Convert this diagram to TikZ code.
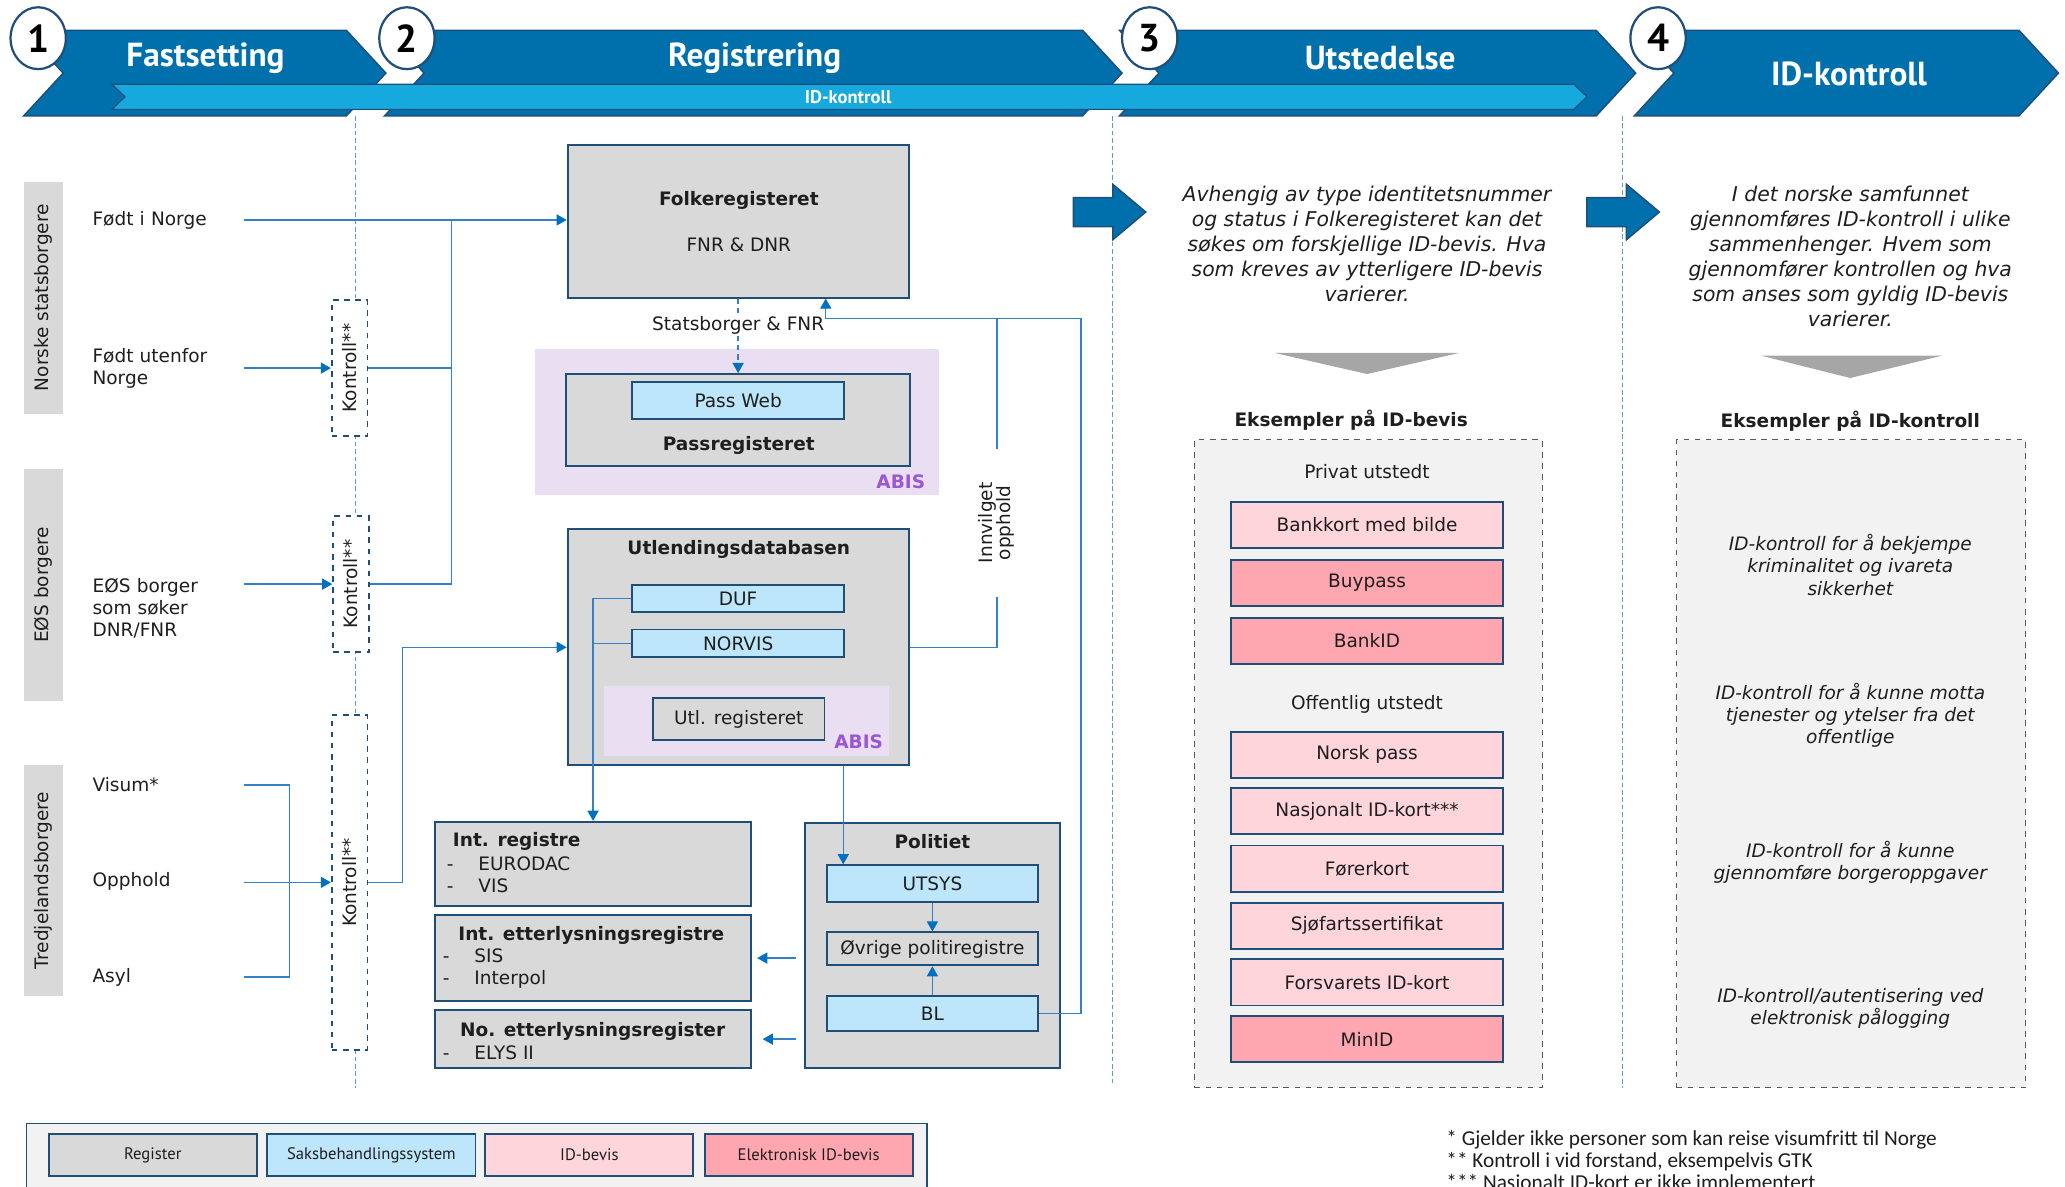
\documentclass[tikz,border=0pt]{standalone}
\usepackage{fontspec}
\setmainfont{DejaVu Sans}
\newfontfamily\hdrfont{PT Sans}
\newfontfamily\notefont{Carlito}
\usepackage{graphicx}
\usetikzlibrary{arrows.meta,calc,shapes.geometric}

\definecolor{hdrblue}{RGB}{0,112,173}
\definecolor{hdrdark}{RGB}{31,78,121}
\definecolor{barblue}{RGB}{21,169,221}
\definecolor{lnblue}{RGB}{52,130,195}
\definecolor{tipblue}{RGB}{0,112,192}
\definecolor{regfill}{RGB}{217,217,217}
\definecolor{sysfill}{RGB}{189,230,251}
\definecolor{idfill}{RGB}{255,213,220}
\definecolor{eidfill}{RGB}{255,167,177}
\definecolor{abisfill}{RGB}{234,223,242}
\definecolor{abistxt}{RGB}{155,87,211}
\definecolor{guideblue}{RGB}{91,155,213}
\definecolor{txt}{RGB}{30,30,30}

\newcommand\pu{0.025cm}
\newcommand\dashitem[1]{\makebox[0.6cm][l]{-}#1}

\tikzset{
  sz/.style 2 args={minimum width=#1*\pu, minimum height=#2*\pu},
  reg/.style={draw=hdrdark, line width=1pt, fill=regfill, inner sep=0pt},
  sys/.style={reg, fill=sysfill},
  ln/.style={draw=lnblue, line width=0.8pt},
  arr/.style={ln, -{Triangle[width=6pt,length=5.5pt,color=tipblue]}},
  darr/.style={arr, dash pattern=on 3pt off 2pt},
}

\begin{document}
\fontsize{10}{12}\selectfont
\begin{tikzpicture}[x=0.025cm, y=-0.025cm, text=txt,
  hdr/.style={fill=hdrblue, draw=hdrdark, line width=0.8pt},
  numc/.style={ellipse, draw=hdrdark, line width=1.2pt, fill=white, text=black, sz={42}{47}, inner sep=0pt, font=\hdrfont\bfseries\fontsize{21}{21}\selectfont},
  hdrtxt/.style={text=white, font=\hdrfont\bfseries\fontsize{18}{18}\selectfont},
  vline/.style={draw=guideblue, line width=0.6pt, dash pattern=on 2.5pt off 1.5pt},
  cat/.style={fill=regfill, sz={30}{176}, inner sep=0pt},
  lbl/.style={anchor=west, text width=2.875cm, align=left, inner sep=0pt},
  kbox/.style={draw=hdrdark, dashed, line width=1pt, fill=white, inner sep=0pt},
  bold/.style={font=\bfseries},
  abis/.style={text=abistxt, font=\bfseries},
  para/.style={align=center, font=\itshape\fontsize{11}{13.5}\selectfont},
  ktxt/.style={align=center, font=\itshape\fontsize{10}{12}\selectfont},
  exbox/.style={draw=black!65, dashed, fill=black!5, line width=0.6pt, inner sep=0pt},
  legtxt/.style={font=\hdrfont\fontsize{9}{10}\selectfont},
]
\useasboundingbox (0,0) rectangle (1568,901);

% guide lines between the phases
\draw[vline] (270,88) -- (270,826);
\draw[vline] (845,88) -- (845,822);
\draw[vline] (1232,88) -- (1232,826);

% header
\foreach \xl/\xr in {18/263, 292/822, 850/1212, 1241/1533}
  \filldraw[hdr] (\xl,23) -- (\xr,23) -- ++(30,32.5) -- ++(-30,32.5) -- (\xl,88) -- ++(30,-32.5) -- cycle;
\filldraw[fill=barblue, draw=hdrdark, line width=0.6pt] (85,64) -- (1195,64) -- ++(10,9.5) -- ++(-10,9.5) -- (85,83) -- ++(10,-9.5) -- cycle;
\node[text=white, font=\hdrfont\bfseries\fontsize{10}{10}\selectfont] (hbar) at (644,73.5) {ID-kontroll};
\node[hdrtxt] (h1) at (156,44) {Fastsetting};
\node[hdrtxt] (h2) at (573,44) {Registrering};
\node[hdrtxt] (h3) at (1048,44) {Utstedelse};
\node[hdrtxt] (h4) at (1404,56) {ID-kontroll};
\foreach \n/\x in {1/29, 2/309, 3/873, 4/1259}
  \node[numc] (c\n) at (\x,29) {\n};

% groups of persons
\node[cat] (catno) at (33,226) {\rotatebox{90}{Norske statsborgere}};
\node[cat] (cateos) at (33,444) {\rotatebox{90}{EØS borgere}};
\node[cat] (cattr) at (33,668.5) {\rotatebox{90}{Tredjelandsborgere}};

\node[lbl] (fodt) at (70,167) {Født i Norge};
\node[lbl] (futen) at (70,279.5) {Født utenfor\\Norge};
\node[lbl] (eos) at (70,462) {EØS borger\\som søker\\DNR/FNR};
\node[lbl] (visum) at (70,596) {Visum*};
\node[lbl] (opph) at (70,669) {Opphold};
\node[lbl] (asyl) at (70,742) {Asyl};

\node[kbox, sz={27}{103}] (k1) at (265.5,279.5) {\rotatebox{90}{Kontroll**}};
\node[kbox, sz={27}{103}] (k2) at (266.5,443.5) {\rotatebox{90}{Kontroll**}};
\node[kbox, sz={27}{254}] (k3) at (265.5,670) {\rotatebox{90}{Kontroll**}};

% registers
\node[reg, sz={259}{116}] (folk) at (560.5,168) {};
\node[bold] (folkt) at (561,152) {Folkeregisteret};
\node (folkn) at (561,186) {FNR \& DNR};

\node[fill=abisfill, sz={307}{111}, inner sep=0pt] (abisA) at (559.5,320.5) {};
\node[reg, sz={261}{70}] (pass) at (560.5,319) {};
\node[sys, sz={161}{28}] (passweb) at (560.5,304) {Pass Web};
\node[bold] (passt) at (561,338) {Passregisteret};
\node[abis] (abis1) at (684,366) {ABIS};

\node[reg, sz={259}{179}] (utl) at (560.5,491.5) {};
\node[bold] (utlt) at (561,417) {Utlendingsdatabasen};
\node[sys, sz={161}{21}] (duf) at (560.5,454.5) {DUF};
\node[sys, sz={161}{21}] (norvis) at (560.5,488.5) {NORVIS};
\node[fill=abisfill, sz={216}{53}, inner sep=0pt] (abisB) at (567,547.5) {};
\node[reg, sz={130}{32}] (utlreg) at (561,546) {Utl. registeret};
\node[abis] (abis2) at (652,563) {ABIS};

\node[inner sep=0pt, sz={30}{112}] (innv) at (757,397)
  {\rotatebox{90}{\begin{tabular}{@{}c@{}}Innvilget\\[-2pt]opphold\end{tabular}}};

\node[reg, sz={240}{64}] (intreg) at (450,656) {};
\node[bold, anchor=west] (intregt) at (339,639) {Int. registre};
\node[anchor=west, align=left, inner sep=0pt] (intregl) at (339,664.5) {\dashitem{EURODAC}\\\dashitem{VIS}};
\node[reg, sz={240}{65}] (intett) at (450,727.5) {};
\node[bold] (intettt) at (449,710) {Int. etterlysningsregistre};
\node[anchor=west, align=left, inner sep=0pt] (intettl) at (336,735.5) {\dashitem{SIS}\\\dashitem{Interpol}};
\node[reg, sz={240}{44}] (noett) at (450,789) {};
\node[bold] (noettt) at (450,783) {No. etterlysningsregister};
\node[anchor=west, inner sep=0pt] (noettl) at (336,799) {\dashitem{ELYS II}};

\node[reg, sz={194}{186}] (pol) at (708,718) {};
\node[bold] (polt) at (708,639) {Politiet};
\node[sys, sz={160}{28}] (utsys) at (708,671) {UTSYS};
\node[reg, sz={160}{25}] (ovrige) at (708,720.5) {Øvrige politiregistre};
\node[sys, sz={160}{27}] (bl) at (708,769.5) {BL};

% connectors
\coordinate (jn) at (343,167);
\coordinate (tb) at (220,670);
\coordinate (hl) at (757,242);
\coordinate (rt) at (821,242);
\coordinate (folkin) at ($(folk.south)+(66.5,0)$);
\coordinate (utin) at ($(utsys.north west)+(13,0)$);

\draw[arr] (fodt.east) -- (fodt.east -| folk.west);
\draw[arr] (futen.east |- k1) -- (k1.west);
\draw[arr] (eos.east |- k2) -- (k2.west);
\draw[ln] (k1.east) -| (jn);
\draw[ln] (k2.east) -| (jn);
\draw[ln] (visum.east) -| (tb);
\draw[ln] (asyl.east) -| (tb);
\draw[arr] (opph.east |- k3) -- (k3.west);
\draw[arr] (k3.east) -- ++(26,0) |- (utl.west);

\draw[darr] (folk.south) -- (pass.north)
  node[pos=0.36, fill=white, inner sep=1pt] (stlbl) {Statsborger \& FNR};
\draw[ln] (utl.east) -- (utl.east -| innv.south) -- (innv.south);
\draw[ln] (innv.north) -- (hl);
\draw[arr] (bl.east) -| (rt) -| (folkin);

\draw[arr] (duf.west) -- ++(-29,0) coordinate (dj) -- (dj |- intreg.north);
\draw[ln] (norvis.west) -- (norvis.west -| dj);
\draw[arr] (utl.south -| utin) -- (utin);
\draw[arr] (utsys.south) -- (ovrige.north);
\draw[arr] (bl.north) -- (ovrige.south);
\draw[arr, shorten <=4pt, shorten >=3pt] (pol.west |- intett) -- (intett.east);
\draw[arr, shorten <=4pt, shorten >=6pt] (pol.west |- noett) -- (noett.east);

% phase 3 and 4
\filldraw[hdr] (815,150) -- (845,150) -- (845,140) -- (870,161) -- (845,182) -- (845,172) -- (815,172) -- cycle;
\filldraw[hdr] (1205,150) -- (1235,150) -- (1235,140) -- (1260,161) -- (1235,182) -- (1235,172) -- (1205,172) -- cycle;

\node[para] (p3) at (1038,185.5) {Avhengig av type identitetsnummer\\og status i Folkeregisteret kan det\\søkes om forskjellige ID-bevis. Hva\\som kreves av ytterligere ID-bevis\\varierer.};
\node[para] (p4) at (1405,195) {I det norske samfunnet\\gjennomføres ID-kontroll i ulike\\sammenhenger. Hvem som\\gjennomfører kontrollen og hva\\som anses som gyldig ID-bevis\\varierer.};

\fill[black!35] (968,268) -- (1108,268) -- (1038,284) -- cycle;
\fill[black!35] (1337,270) -- (1475,270) -- (1405,287) -- cycle;

\node[bold] (exidt) at (1026,319) {Eksempler på ID-bevis};
\node[exbox, sz={264}{492}] (exid) at (1039,580) {};
\node (priv) at (1038,358) {Privat utstedt};
\node (offt) at (1038,535) {Offentlig utstedt};
\foreach \nm/\y/\fc/\tx in {bankkort/398.5/idfill/Bankkort med bilde, buypass/442.5/eidfill/Buypass,
    bankid/486.5/eidfill/BankID, norskpass/573/idfill/Norsk pass, nasjid/616/idfill/Nasjonalt ID-kort***,
    forerkort/659.5/idfill/Førerkort, sjofart/703/idfill/Sjøfartssertifikat,
    forsvar/746/idfill/Forsvarets ID-kort, minid/789/eidfill/MinID}
  \node[reg, sz={206}{35}, fill=\fc] (\nm) at (1038,\y) {\tx};

\node[bold] (exktt) at (1405,320) {Eksempler på ID-kontroll};
\node[exbox, sz={265}{492}] (exkt) at (1405.5,580) {};
\node[ktxt] (kt1) at (1405,429) {ID-kontroll for å bekjempe\\kriminalitet og ivareta\\sikkerhet};
\node[ktxt] (kt2) at (1405,543) {ID-kontroll for å kunne motta\\tjenester og ytelser fra det\\offentlige};
\node[ktxt] (kt3) at (1405,654.5) {ID-kontroll for å kunne\\gjennomføre borgeroppgaver};
\node[ktxt] (kt4) at (1405,765.5) {ID-kontroll/autentisering ved\\elektronisk pålogging};

% legend
\node[draw=hdrdark, fill=black!5, line width=0.8pt, sz={684}{52}, inner sep=0pt] (leg) at (362,879) {};
\foreach \nm/\x/\fc/\tx in {lreg/116/regfill/Register, lsys/282/sysfill/Saksbehandlingssystem,
    lid/447.5/idfill/ID-bevis, leid/614/eidfill/Elektronisk ID-bevis}
  \node[reg, legtxt, fill=\fc, sz={158}{32}] (\nm) at (\x,877) {\tx};

\node[anchor=north west, align=left, inner sep=0pt, font=\notefont\fontsize{11.5}{12}\selectfont] (fnote) at (1098,858)
  {* Gjelder ikke personer som kan reise visumfritt til Norge\\** Kontroll i vid forstand, eksempelvis GTK\\*** Nasjonalt ID-kort er ikke implementert};
\end{tikzpicture}
\end{document}
